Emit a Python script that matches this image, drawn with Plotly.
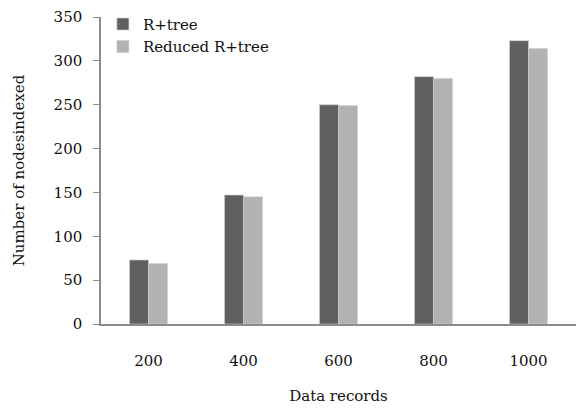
import plotly.graph_objects as go

categories = ["200", "400", "600", "800", "1000"]
rtree = [73, 147, 250, 282, 323]
reduced = [69, 145, 249, 280, 314]
series_names = ["R+tree", "Reduced R+tree"]
colors = ["#606060", "#b2b2b2"]
font_family = "DejaVu Serif"

fig = go.Figure()
for name, vals, col in zip(series_names, [rtree, reduced], colors):
    fig.add_trace(go.Bar(
        x=categories, y=vals, name=name,
        marker=dict(color=col, line=dict(color="#d0d0d0", width=0.6)),
    ))

fig.update_layout(
    width=576, height=408,
    margin=dict(l=101, r=0, t=17, b=84),
    paper_bgcolor="white", plot_bgcolor="white",
    barmode="group", bargap=0.6, bargroupgap=0,
    font=dict(family=font_family, size=15, color="#111111"),
    legend=dict(
        x=0.004, y=1.03, xanchor="left", yanchor="top",
        bgcolor="rgba(0,0,0,0)", font=dict(size=15),
        itemwidth=30, tracegroupgap=0,
    ),
    xaxis=dict(
        type="category", showline=True, linecolor="#8c8c8c", linewidth=1.5,
        ticks="", showgrid=False, ticklabelstandoff=22,
        title=dict(text="Data records", standoff=22, font=dict(size=15)),
        tickfont=dict(size=15),
    ),
    yaxis=dict(
        range=[0, 350], dtick=50, showline=True, linecolor="#8c8c8c", linewidth=1.5,
        ticks="outside", ticklen=6, tickcolor="#8c8c8c", showgrid=False,
        ticklabelstandoff=8,
        title=dict(text="Number of nodesindexed", standoff=25, font=dict(size=15)),
        tickfont=dict(size=15), zeroline=False,
    ),
)

fig.write_html("out.html")
